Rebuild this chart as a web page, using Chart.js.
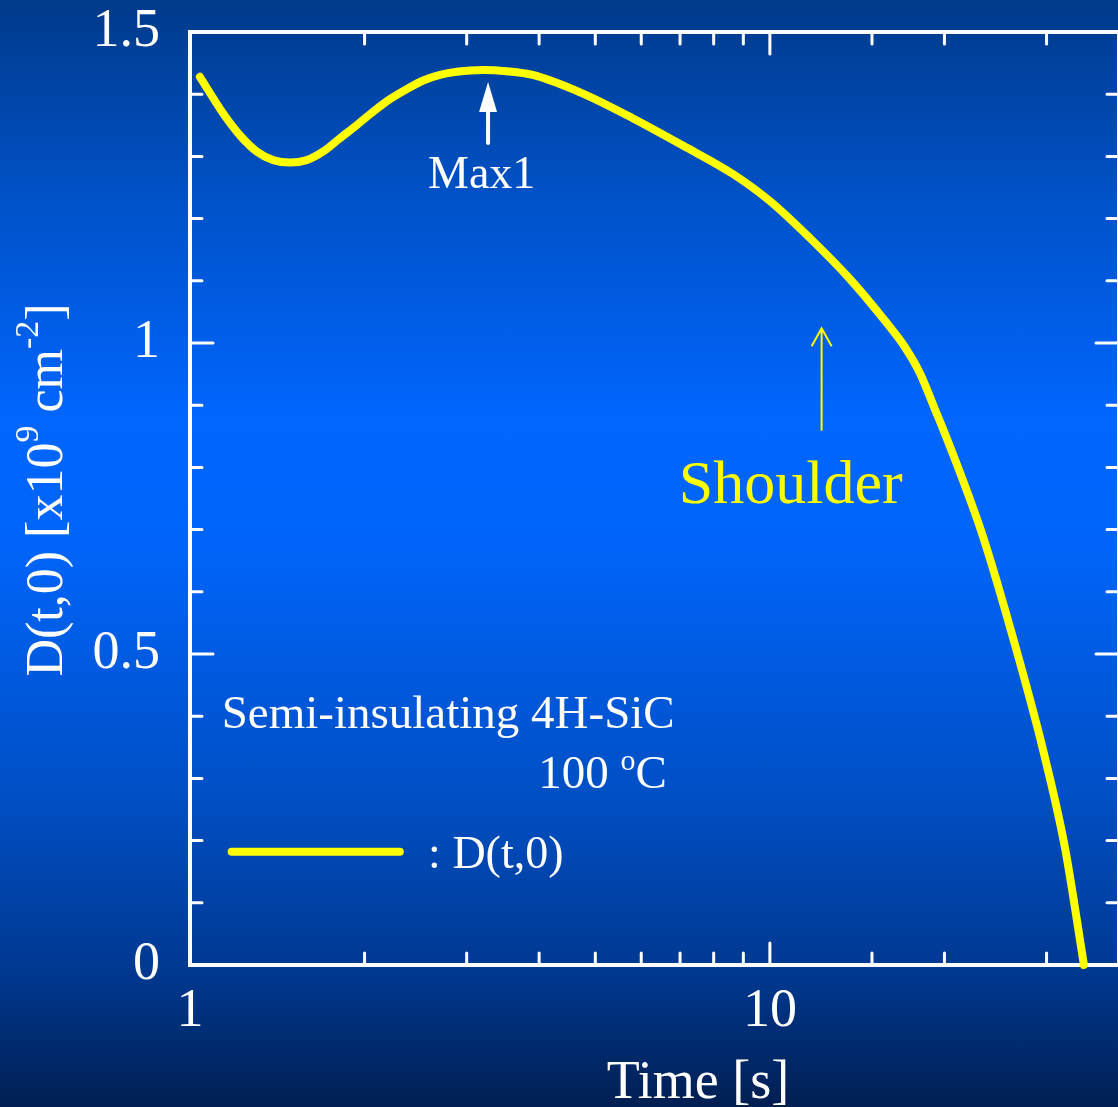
<!DOCTYPE html>
<html>
<head>
<meta charset="utf-8">
<script src="https://cdn.jsdelivr.net/npm/chart.js@4.4.1/dist/chart.umd.min.js"></script>
<style>
    html, body {
        margin: 0;
        padding: 0;
        width: 1118px;
        height: 1107px;
        overflow: hidden;
        background: linear-gradient(to bottom,
            #003a8a 0%, #0052c8 18%, #0066ff 38%, #0064f8 50%,
            #004fc4 72%, #00388f 88%, #001f52 100%);
    }
    canvas { display: block; }
</style>
</head>
<body>
<canvas id="chart" width="1120" height="1107"></canvas>
<script>
// D(t,0), time in seconds
const timeValues = [1.040, 1.141, 1.219, 1.303, 1.392, 1.487, 1.589, 1.698, 1.813, 1.937,
                    2.070, 2.212, 2.363, 2.525, 2.698, 2.884, 3.20, 3.515, 3.90, 4.76,
                    5.81, 7.079, 8.635, 10.0, 11.72, 13.74, 15.91, 17.09, 18.14, 19.25,
                    20.43, 23.29, 26.56, 29.56, 32.26, 34.8];
const dValues    = [1.428, 1.369, 1.334, 1.308, 1.294, 1.290, 1.294, 1.308, 1.329, 1.350,
                    1.372, 1.392, 1.408, 1.422, 1.431, 1.436, 1.439, 1.437, 1.431, 1.401,
                    1.361, 1.3175, 1.2717, 1.2283, 1.1688, 1.1029, 1.032, 0.9936, 0.9518, 0.8939,
                    0.8344, 0.6897, 0.5096, 0.3473, 0.1897, 0.000];

const xLabels = [1, 10];
const yLabels = [0, 0.5, 1, 1.5];

const serif = '"Liberation Serif", "Times New Roman", serif';
const YELLOW = "#ffff00";
const WHITE  = "#ffffff";

// annotations, placed in data coordinates
const maxArrow      = { t: 3.266, from: 1.3215, to: 1.4196 };
const maxLabel      = { t: 3.184, y: 1.249, text: "Max1" };
const shoulderArrow = { t: 12.28, from: 0.859, to: 1.0236 };
const shoulderLabel = { t: 10.86, y: 0.743, text: "Shoulder" };
const sampleLabel   = { t: 1.134, y: 0.3805, text: "Semi-insulating 4H-SiC" };
const tempLabel     = { t: 3.985, y: 0.284 };
const legendLine    = { t0: 1.18, t1: 2.301, y: 0.182 };
const legendLabel   = { t: 2.574, y: 0.156, text: ": D(t,0)" };


function drawPieces(ctx, pieces, x, y, align){
    let total = 0;
    pieces.forEach(p => {
        ctx.font = `${p.size}px ${serif}`;
        p.w = ctx.measureText(p.text).width;
        total += p.w;
    });
    let cx = align === "center" ? x - total / 2 : x;
    pieces.forEach(p => {
        ctx.font = `${p.size}px ${serif}`;
        ctx.fillText(p.text, cx, y + (p.dy || 0));
        cx += p.w;
    });
}

// no extra room for labels hanging over the plot box
function noPad(s){
    s.paddingTop = 0;
    s.paddingBottom = 0;
    s.paddingLeft = 0;
    s.paddingRight = 0;
}


const framePlugin = {
    id: "frame",
    beforeDatasetsDraw(chart){
        const { ctx, chartArea: a } = chart;
        const xs = chart.scales.x;
        const ys = chart.scales.y;

        ctx.save();
        ctx.strokeStyle = WHITE;
        ctx.lineCap = "round";
        ctx.lineWidth = 3;

        // inward ticks on all four sides
        xs.ticks.forEach(tk => {
            const lg = Math.log10(tk.value);
            const major = Math.abs(lg - Math.round(lg)) < 1e-9;
            const len = major ? 22 : 12;
            const px = xs.getPixelForValue(tk.value);
            ctx.beginPath();
            ctx.moveTo(px, a.bottom); ctx.lineTo(px, a.bottom - len);
            ctx.moveTo(px, a.top);    ctx.lineTo(px, a.top + len);
            ctx.stroke();
        });
        ys.ticks.forEach(tk => {
            const major = Math.abs(tk.value * 2 - Math.round(tk.value * 2)) < 1e-6;
            const len = major ? 23 : 12;
            const py = ys.getPixelForValue(tk.value);
            ctx.beginPath();
            ctx.moveTo(a.left, py);  ctx.lineTo(a.left + len, py);
            ctx.moveTo(a.right, py); ctx.lineTo(a.right - len, py);
            ctx.stroke();
        });

        ctx.lineCap = "butt";
        ctx.lineWidth = 4;
        ctx.strokeRect(a.left, a.top, a.right - a.left, a.bottom - a.top);
        ctx.restore();
    },
    afterDraw(chart){
        const { ctx } = chart;
        const xs = chart.scales.x;
        const ys = chart.scales.y;
        const X = v => xs.getPixelForValue(v);
        const Y = v => ys.getPixelForValue(v);

        ctx.save();
        ctx.textBaseline = "alphabetic";

        // axis titles
        ctx.fillStyle = WHITE;
        ctx.textAlign = "left";
        drawPieces(ctx, [{ text: "Time [s]", size: 54 }], 698, 1098, "center");

        ctx.save();
        ctx.translate(62, 490);
        ctx.rotate(-Math.PI / 2);
        drawPieces(ctx, [
            { text: "D(t,0) [x10", size: 52 },
            { text: "9", size: 34, dy: -24 },
            { text: " cm", size: 52 },
            { text: "-2", size: 34, dy: -24 },
            { text: "]", size: 52 }
        ], 0, 0, "center");
        ctx.restore();

        // Max1 arrow (filled head)
        const mx = X(maxArrow.t);
        const tipY = Y(maxArrow.to);
        const baseY = Y(maxArrow.from);
        ctx.fillStyle = WHITE;
        ctx.beginPath();
        ctx.moveTo(mx, tipY);
        ctx.lineTo(mx - 9, tipY + 30);
        ctx.lineTo(mx + 9, tipY + 30);
        ctx.closePath();
        ctx.fill();
        ctx.strokeStyle = WHITE;
        ctx.lineWidth = 4;
        ctx.lineCap = "round";
        ctx.beginPath();
        ctx.moveTo(mx, tipY + 28);
        ctx.lineTo(mx, baseY);
        ctx.stroke();
        drawPieces(ctx, [{ text: maxLabel.text, size: 46 }], X(maxLabel.t), Y(maxLabel.y), "center");

        // Shoulder arrow (open head)
        const sx = X(shoulderArrow.t);
        const sTip = Y(shoulderArrow.to);
        ctx.strokeStyle = YELLOW;
        ctx.lineWidth = 2;
        ctx.lineCap = "butt";
        ctx.beginPath();
        ctx.moveTo(sx, Y(shoulderArrow.from));
        ctx.lineTo(sx, sTip);
        ctx.moveTo(sx - 10, sTip + 18);
        ctx.lineTo(sx, sTip);
        ctx.lineTo(sx + 10, sTip + 18);
        ctx.stroke();
        ctx.fillStyle = YELLOW;
        drawPieces(ctx, [{ text: shoulderLabel.text, size: 62 }], X(shoulderLabel.t), Y(shoulderLabel.y), "center");

        // sample text
        ctx.fillStyle = WHITE;
        drawPieces(ctx, [{ text: sampleLabel.text, size: 47 }], X(sampleLabel.t), Y(sampleLabel.y), "left");
        drawPieces(ctx, [
            { text: "100 ", size: 47 },
            { text: "o", size: 30, dy: -18 },
            { text: "C", size: 47 }
        ], X(tempLabel.t), Y(tempLabel.y), "left");

        // legend
        ctx.strokeStyle = YELLOW;
        ctx.lineWidth = 8;
        ctx.lineCap = "round";
        ctx.beginPath();
        ctx.moveTo(X(legendLine.t0), Y(legendLine.y));
        ctx.lineTo(X(legendLine.t1), Y(legendLine.y));
        ctx.stroke();
        drawPieces(ctx, [{ text: legendLabel.text, size: 46 }], X(legendLabel.t), Y(legendLabel.y), "left");

        ctx.restore();
    }
};


new Chart(document.getElementById("chart"), {
    type: "line",
    data: {
        datasets: [{
            label: "D(t,0)",
            data: timeValues.map((t, i) => ({ x: t, y: dValues[i] })),
            borderColor: YELLOW,
            borderWidth: 8,
            borderCapStyle: "round",
            borderJoinStyle: "round",
            pointRadius: 0,
            fill: false,
            cubicInterpolationMode: "monotone",
            clip: 8
        }]
    },
    options: {
        responsive: false,
        animation: false,
        devicePixelRatio: 1,
        layout: { padding: { top: 32, right: 1, left: 0, bottom: 0 } },
        plugins: {
            legend: { display: false },
            tooltip: { enabled: false }
        },
        scales: {
            x: {
                type: "logarithmic",
                min: 1,
                max: 40,
                grid: { display: false },
                border: { display: false },
                ticks: {
                    color: WHITE,
                    font: { family: serif, size: 54 },
                    padding: 6,
                    autoSkip: false,
                    maxRotation: 0,
                    callback: v => xLabels.includes(v) ? String(v) : ""
                },
                afterFit: s => { s.height = 142; noPad(s); }
            },
            y: {
                min: 0,
                max: 1.5,
                grid: { display: false },
                border: { display: false },
                ticks: {
                    color: WHITE,
                    font: { family: serif, size: 54 },
                    padding: 22,
                    stepSize: 0.1,
                    autoSkip: false,
                    callback: v => {
                        const hit = yLabels.find(l => Math.abs(l - v) < 1e-6);
                        return hit === undefined ? "" : String(hit);
                    }
                },
                afterFit: s => { s.width = 190; noPad(s); }
            }
        }
    },
    plugins: [framePlugin]
});
</script>
</body>
</html>
